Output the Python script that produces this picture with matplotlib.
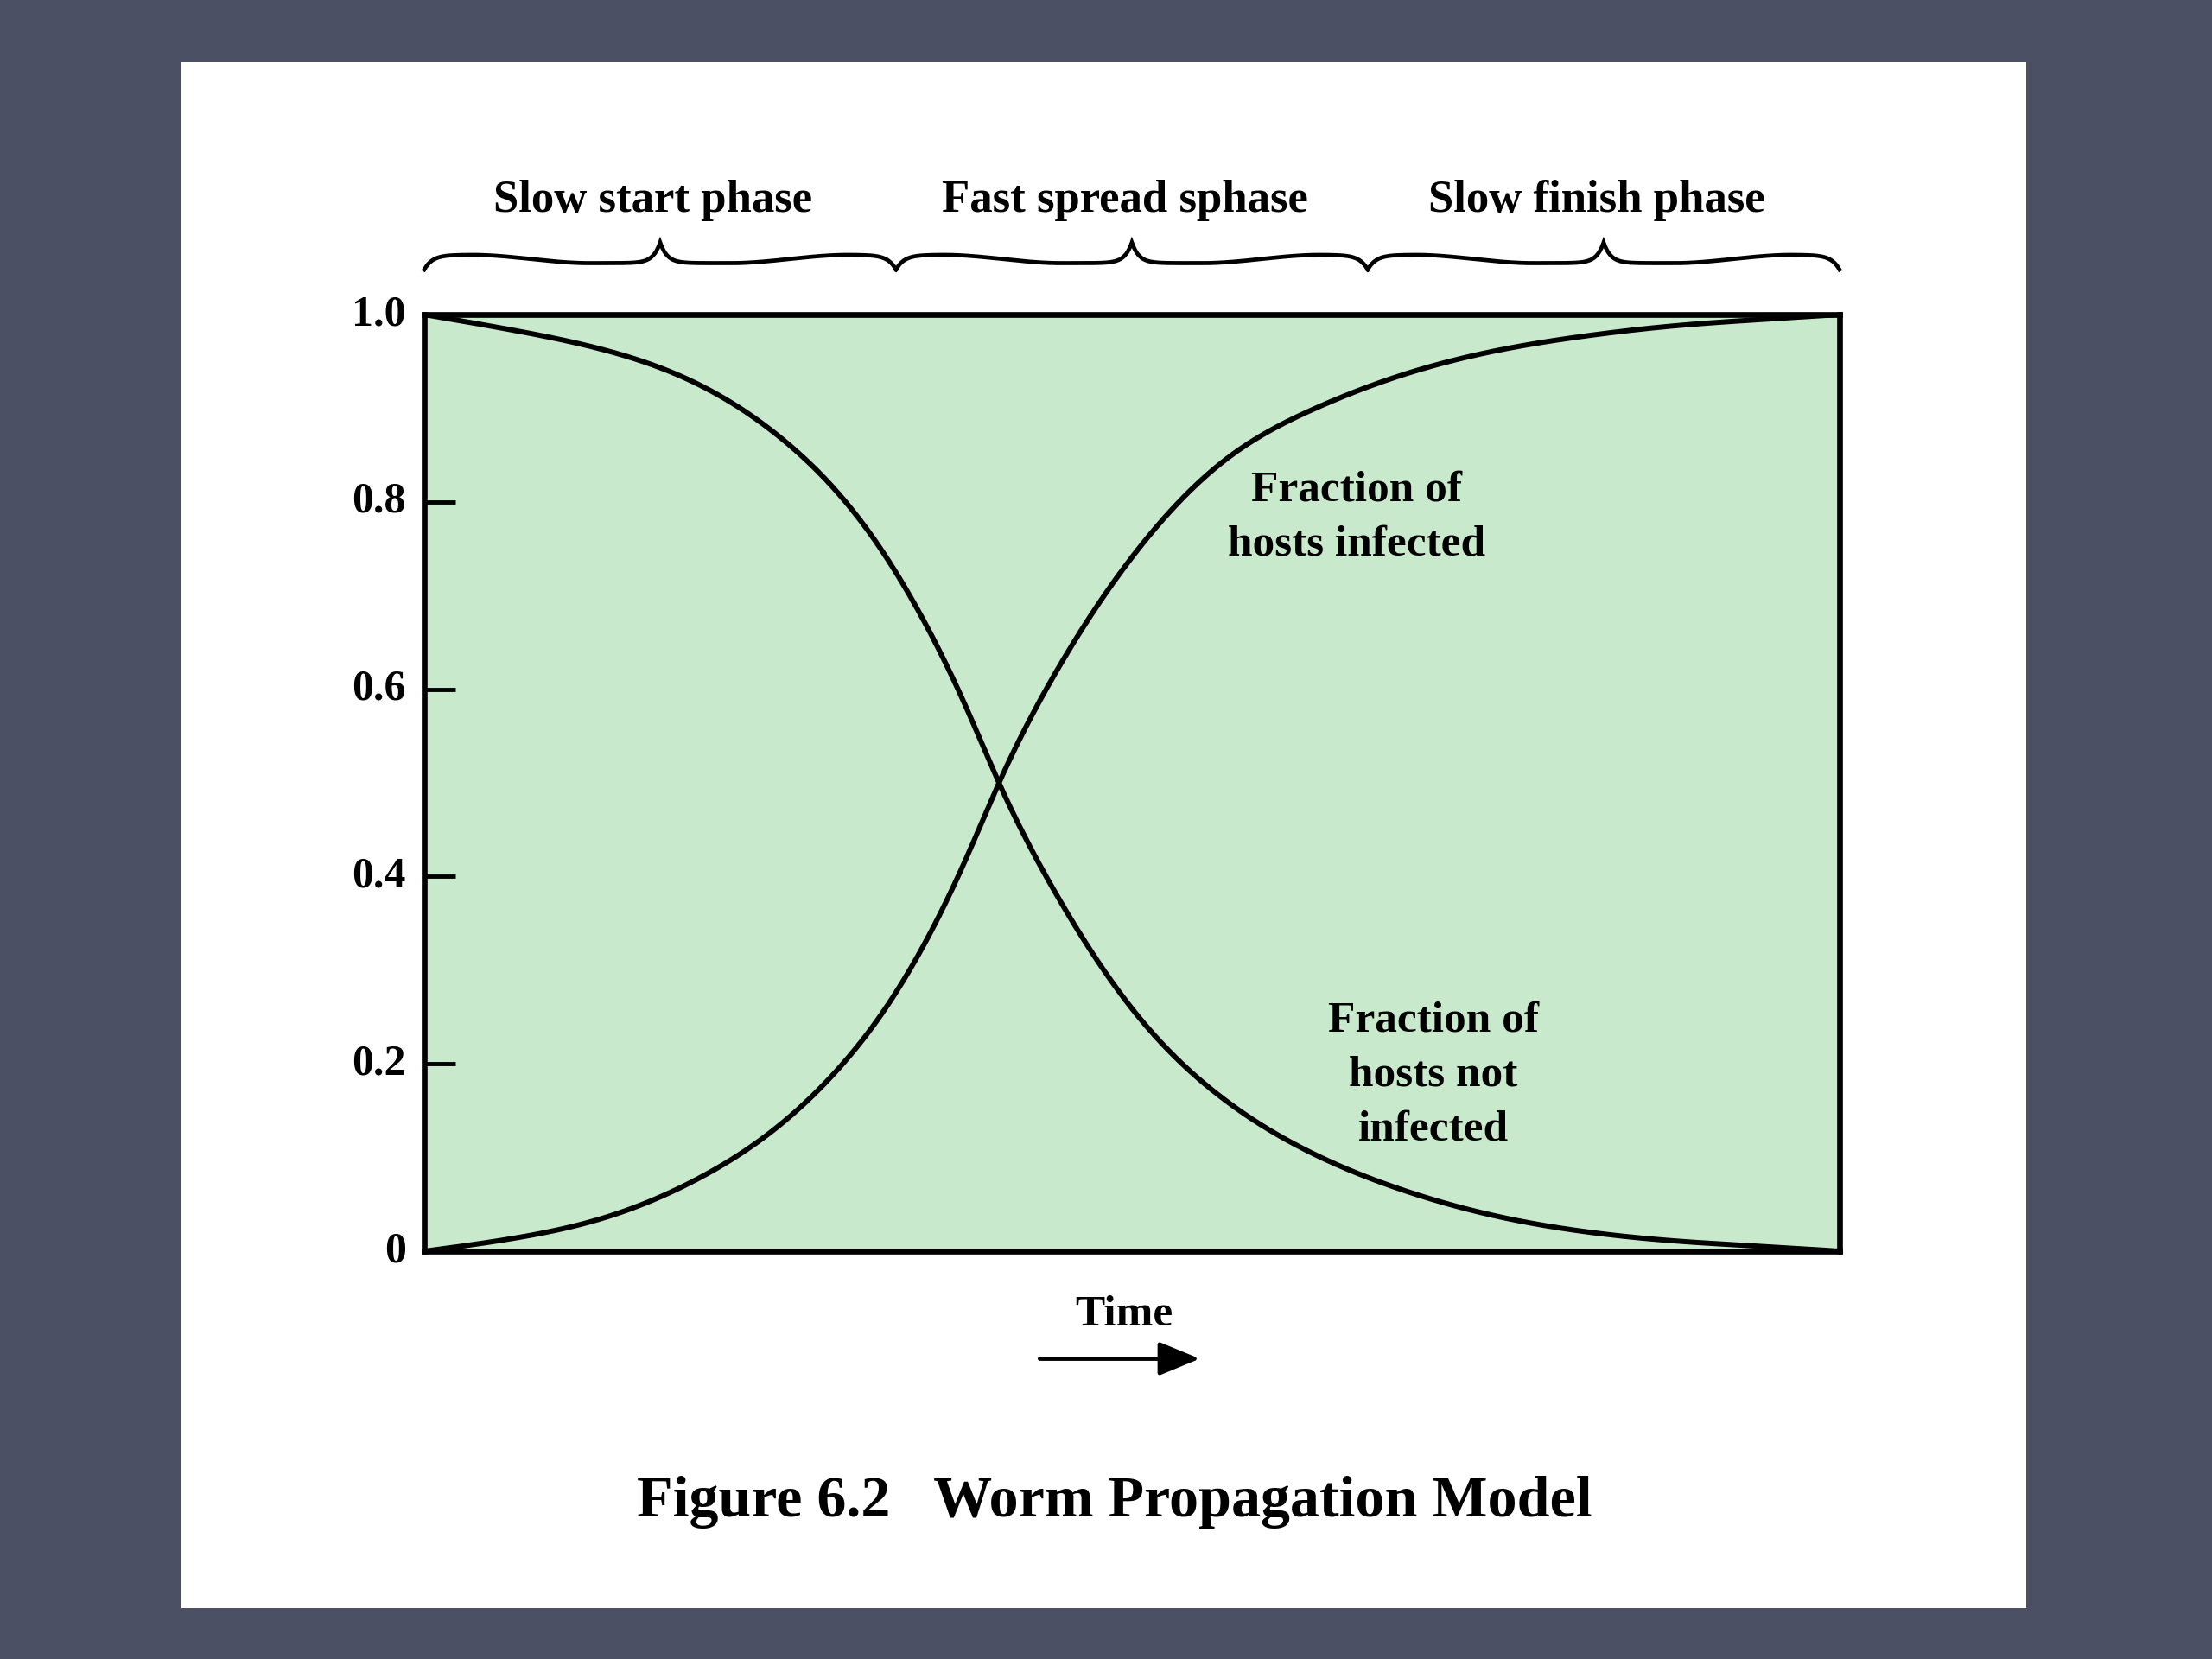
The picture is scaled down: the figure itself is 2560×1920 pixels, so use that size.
import numpy as np
import matplotlib
matplotlib.use('Agg')
import matplotlib.pyplot as plt
from matplotlib.patches import Rectangle, FancyArrowPatch
import matplotlib.transforms as mtransforms

plt.rcParams['font.family'] = ['Liberation Serif', 'DejaVu Serif']
plt.rcParams['font.weight'] = 'bold'

# values (time as fraction of the axis)
time_pts = [0.0, 0.0639, 0.1277, 0.1916, 0.2554, 0.2873, 0.3193, 0.3512, 0.3831,
            0.4061, 0.447, 0.5006, 0.5644, 0.6283, 0.6921, 0.756, 0.8198, 0.8837,
            0.9476, 1.0]
infected = [0.0, 0.014, 0.036, 0.076, 0.14, 0.186, 0.245, 0.322, 0.42,
            0.5, 0.62, 0.742, 0.843, 0.899, 0.936, 0.961, 0.977, 0.988,
            0.995, 1.0]
not_infected = [1.0, 0.983, 0.962, 0.927, 0.864, 0.818, 0.757, 0.678, 0.58,
                0.5, 0.38, 0.258, 0.163, 0.104, 0.065, 0.038, 0.021, 0.011,
                0.005, 0.0]

phase_names = ['Slow start phase', 'Fast spread sphase', 'Slow finish phase']
phase_edges = [0.0, 1 / 3, 2 / 3, 1.0]

y_ticks = [0.2, 0.4, 0.6, 0.8]
y_label_vals = [0.0, 0.2, 0.4, 0.6, 0.8, 1.0]
y_label_txt = ['0', '0.2', '0.4', '0.6', '0.8', '1.0']

bg = '#4b5064'
fill = '#c9e9cc'

fig = plt.figure(figsize=(25.6, 19.2), dpi=100)
fig.patch.set_facecolor(bg)
fig.add_artist(Rectangle((0.082, 0.0307), 0.834, 0.9318, transform=fig.transFigure,
                         facecolor='white', edgecolor='none', zorder=0))

ax = fig.add_axes([0.1918, 0.2458, 0.6398, 0.5646])
ax.set_facecolor(fill)
ax.set_zorder(1)


def smooth(xs, ys, n=800):
    # natural cubic spline through the read points, only to draw them smoothly
    xs = np.asarray(xs, float); ys = np.asarray(ys, float)
    npt = len(xs)
    h = np.diff(xs)
    A = np.zeros((npt, npt)); r = np.zeros(npt)
    A[0, 0] = A[-1, -1] = 1.0
    for i in range(1, npt - 1):
        A[i, i - 1] = h[i - 1]
        A[i, i] = 2 * (h[i - 1] + h[i])
        A[i, i + 1] = h[i]
        r[i] = 6 * ((ys[i + 1] - ys[i]) / h[i] - (ys[i] - ys[i - 1]) / h[i - 1])
    M = np.linalg.solve(A, r)
    xn = np.linspace(xs[0], xs[-1], n)
    i = np.clip(np.searchsorted(xs, xn) - 1, 0, npt - 2)
    a = xs[i + 1] - xn; b = xn - xs[i]
    yn = (M[i] * a**3 + M[i + 1] * b**3) / (6 * h[i]) \
        + (ys[i] / h[i] - M[i] * h[i] / 6) * a + (ys[i + 1] / h[i] - M[i + 1] * h[i] / 6) * b
    return xn, np.clip(yn, 0, 1)


ax.plot(*smooth(time_pts, infected), color='black', lw=4.3, solid_capstyle='round')
ax.plot(*smooth(time_pts, not_infected), color='black', lw=4.3, solid_capstyle='round')

ax.set_xlim(0, 1)
ax.set_ylim(0, 1)
for sp in ax.spines.values():
    sp.set_linewidth(4.8)
ax.set_xticks([])
ax.set_yticks(y_ticks)
ax.set_yticklabels([])
ax.tick_params(axis='y', direction='in', length=26, width=3.5)
for v, s in zip(y_label_vals, y_label_txt):
    ax.text(-0.013, v, s, transform=ax.get_yaxis_transform(), ha='right', va='center',
            fontsize=36, fontweight='bold', clip_on=False)

ax.text(0.659, 0.783, 'Fraction of\nhosts infected', ha='center', va='center',
        fontsize=37, fontweight='bold', linespacing=1.48)
ax.text(0.713, 0.188, 'Fraction of\nhosts not\ninfected', ha='center', va='center',
        fontsize=37, fontweight='bold', linespacing=1.48)


# curly braces above the axes, one per phase
def half_brace(s):
    ramp = np.clip((s - 0.2) / 0.5, 0, 1)
    ramp = ramp * ramp * (3 - 2 * ramp)
    curl = 1 - np.exp(-s / 0.035)
    cusp = np.exp((s - 1) / 0.03)
    return ((57 - 32 * ramp) * curl + 80 * cusp) / 105


trans = mtransforms.blended_transform_factory(ax.transData, ax.transAxes)
for x0, x1, name in zip(phase_edges[:-1], phase_edges[1:], phase_names):
    s = np.linspace(0, 1, 300)
    hb = half_brace(s)
    xm = (x0 + x1) / 2
    xb = np.concatenate((x0 + s * (xm - x0), x1 - s[::-1] * (x1 - xm)))
    yb = np.concatenate((hb, hb[::-1]))
    yb = 1.048 + yb * 0.029
    ax.plot(xb, yb, color='black', lw=3.4, transform=trans, clip_on=False,
            solid_joinstyle='miter')
    ax.text(xm - 0.005, 1.110, name, transform=trans, ha='center', va='baseline',
            fontsize=38, fontweight='bold')

fig.text(0.508, 0.2075, 'Time', ha='center', va='center', fontsize=37, fontweight='bold')
fig.add_artist(FancyArrowPatch((0.469, 0.181), (0.5435, 0.181), transform=fig.transFigure,
                               arrowstyle='-|>,head_length=1.7,head_width=0.7',
                               mutation_scale=17, color='black', lw=3.5))

fig.text(0.504, 0.086, 'Figure 6.2   Worm Propagation Model', ha='center', va='baseline',
         fontsize=49, fontweight='bold')

fig.savefig('out.png', dpi=100, facecolor=bg)
